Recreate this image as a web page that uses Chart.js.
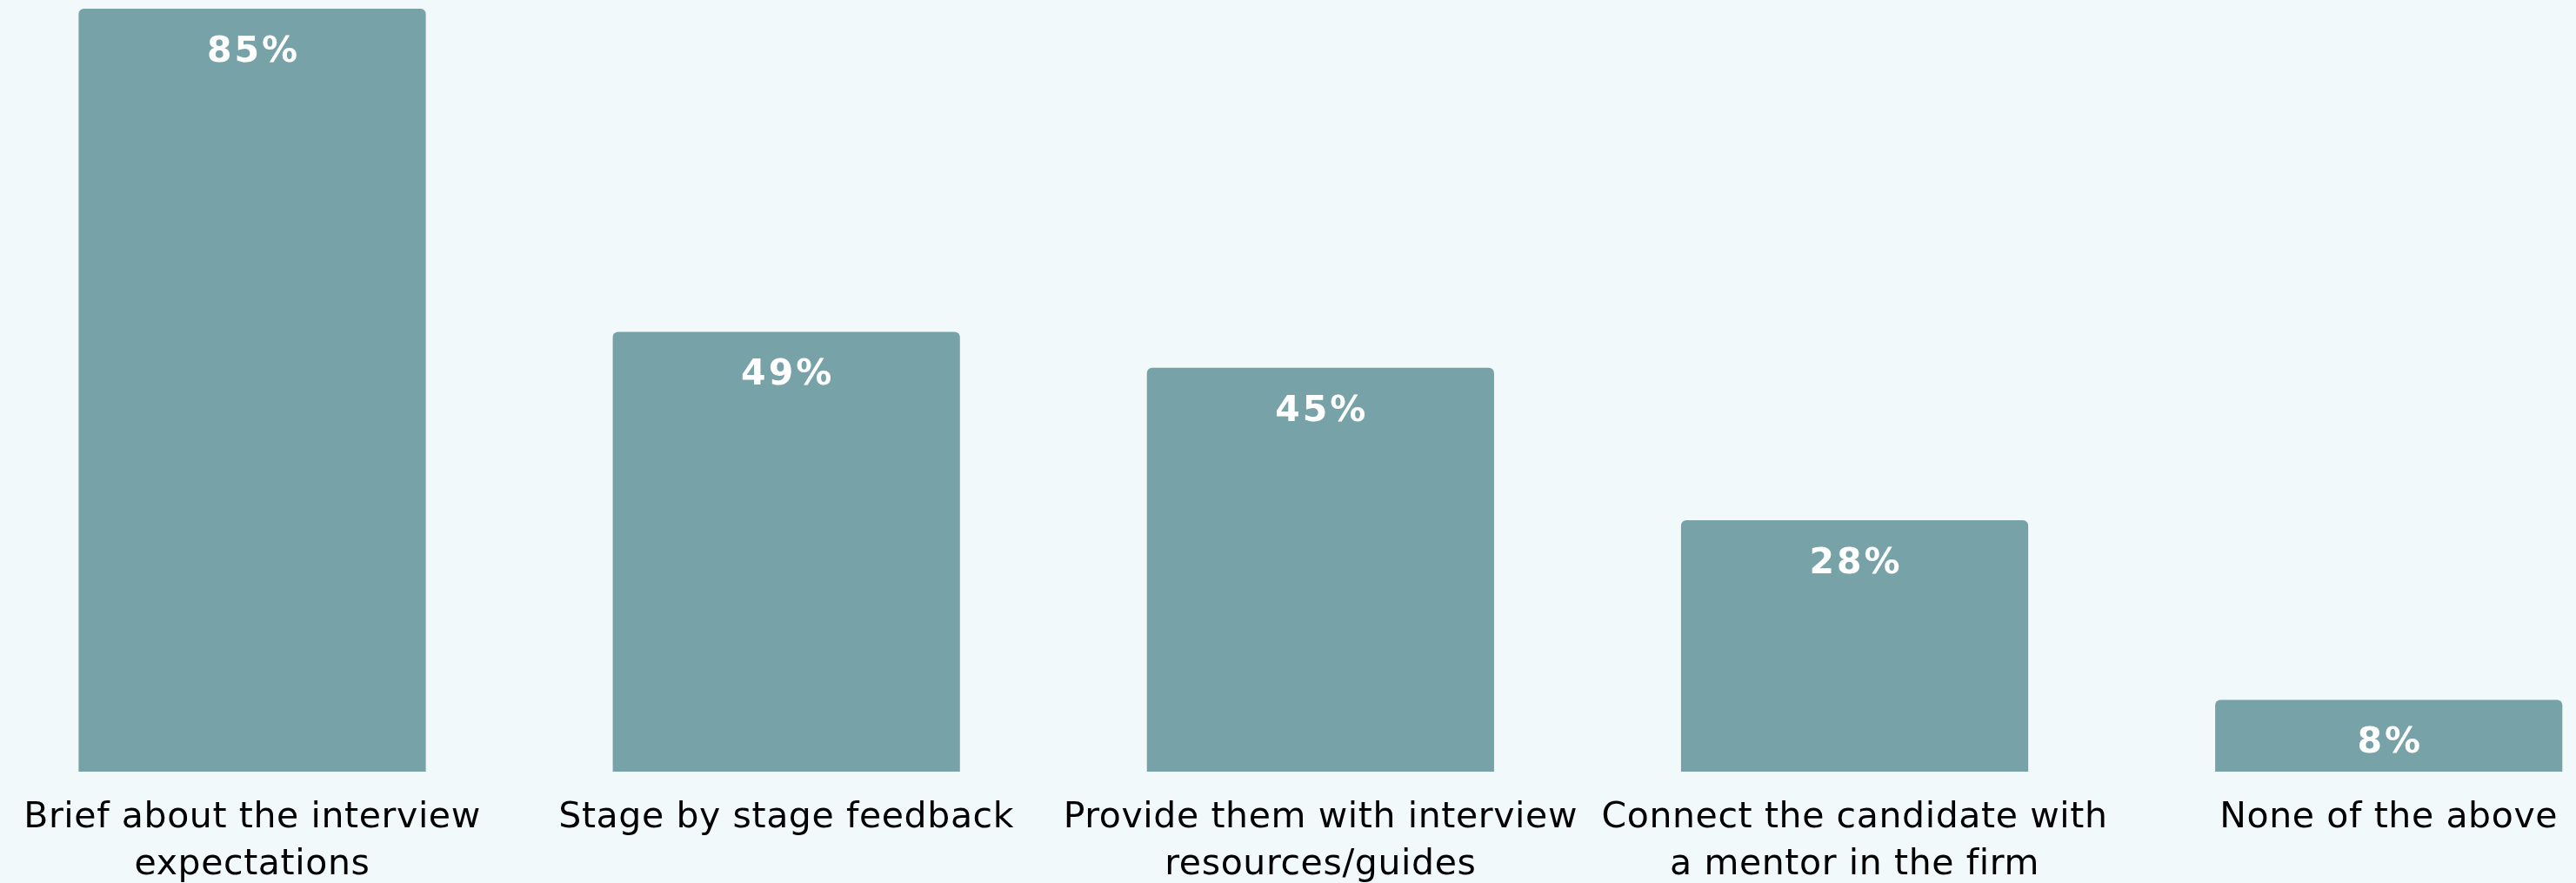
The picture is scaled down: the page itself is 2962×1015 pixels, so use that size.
<!DOCTYPE html>
<html>
<head>
<meta charset="utf-8">
<title>Candidate support</title>
<script src="https://cdn.jsdelivr.net/npm/chart.js@4.4.1/dist/chart.umd.min.js"></script>
<style>
  html, body { margin: 0; padding: 0; background: #F1F9FB; }
  .chart-wrap { width: 2962px; height: 1015px; position: relative; }
</style>
</head>
<body>
<div class="chart-wrap"><canvas id="supportChart"></canvas></div>
<script>
// Answer categories (split into lines for the axis)
const categories = [
  ["Brief about the interview", "expectations"],
  ["Stage by stage feedback"],
  ["Provide them with interview", "resources/guides"],
  ["Connect the candidate with", "a mentor in the firm"],
  ["None of the above"]
];

// Share of respondents, percent
const shares = [85, 49, 45, 28, 8];

const barColor = "#77A2A7";
const fontFamily = "Verdana, 'DejaVu Sans', sans-serif";

// Slightly looser text, closer to Verdana's spacing
const textSpacing = {
  id: "textSpacing",
  beforeDraw(chart) {
    chart.ctx.letterSpacing = "0.6px";
  }
};

// Writes the percentage inside the top of each bar
const valueLabels = {
  id: "valueLabels",
  afterDatasetsDraw(chart) {
    const ctx = chart.ctx;
    const meta = chart.getDatasetMeta(0);
    ctx.save();
    ctx.fillStyle = "#ffffff";
    ctx.font = "bold 41px " + fontFamily;
    ctx.textAlign = "center";
    ctx.textBaseline = "alphabetic";
    ctx.letterSpacing = "3px";
    meta.data.forEach((bar, i) => {
      ctx.fillText(shares[i] + "%", bar.x + 1.5, bar.y + 61);
    });
    ctx.restore();
  }
};

new Chart(document.getElementById("supportChart"), {
  type: "bar",
  data: {
    labels: categories,
    datasets: [{
      data: shares,
      backgroundColor: barColor,
      borderRadius: { topLeft: 6, topRight: 6 },
      borderSkipped: "start",
      categoryPercentage: 0.65,
      barPercentage: 1,
      clip: false
    }]
  },
  options: {
    responsive: true,
    maintainAspectRatio: false,
    animation: false,
    layout: { padding: { top: 10, left: 290, right: 210, bottom: 0 } },
    plugins: {
      legend: { display: false },
      tooltip: { enabled: false }
    },
    scales: {
      x: {
        offset: false,
        grid: { display: false, drawTicks: false },
        border: { display: false },
        ticks: {
          color: "#000000",
          padding: 26,
          maxRotation: 0,
          autoSkip: false,
          font: { family: fontFamily, size: 41, lineHeight: 1.33 }
        },
        afterFit(scale) { scale.height = 128; }
      },
      y: {
        display: false,
        min: 0,
        max: 85
      }
    }
  },
  plugins: [textSpacing, valueLabels]
});
</script>
</body>
</html>
